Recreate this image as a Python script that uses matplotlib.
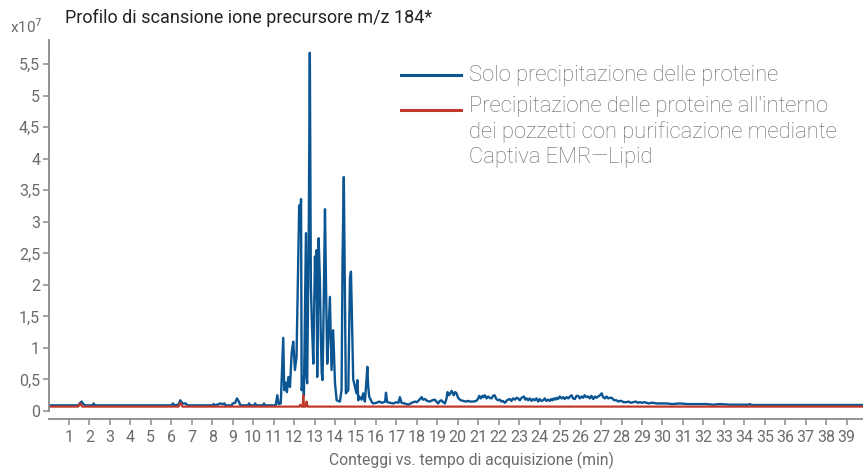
import matplotlib
matplotlib.use("Agg")
from matplotlib import pyplot as plt
from matplotlib.lines import Line2D

plt.rcParams['font.family'] = ['Roboto', 'DejaVu Sans']

# tempo (min) e conteggi (x10^7) - solo precipitazione delle proteine
t_blu = [0, 1.45, 1.55, 1.62, 1.7, 1.8, 2.15, 2.2, 2.27, 6.0, 6.08, 6.15, 6.35, 6.44, 6.55,
         6.7, 6.8, 8.0, 8.07, 8.15, 8.4, 8.5, 8.6, 8.65, 8.95, 9.0, 9.12, 9.21, 9.3, 9.38,
         9.75, 9.8, 9.85, 10.05, 10.1, 10.15, 10.48, 10.53, 10.58, 11.1, 11.18, 11.25,
         11.35, 11.47, 11.52, 11.6, 11.65, 11.72, 11.8, 11.88, 11.96, 12.04, 12.12, 12.2,
         12.25, 12.3, 12.34, 12.37, 12.42, 12.45, 12.48, 12.58, 12.61, 12.64, 12.72, 12.77,
         12.82, 12.86, 12.94, 13.02, 13.07, 13.1, 13.13, 13.2, 13.26, 13.3, 13.35, 13.39,
         13.45, 13.51, 13.56, 13.62, 13.67, 13.75, 13.83, 13.91, 13.96, 14.0, 14.08, 14.24,
         14.32, 14.37, 14.43, 14.48, 14.53, 14.65, 14.73, 14.78, 14.83, 14.89, 14.97, 15.05,
         15.09, 15.14, 15.18, 15.3, 15.38, 15.46, 15.54, 15.58, 15.62, 15.67, 15.8, 15.87,
         16.03, 16.15, 16.3, 16.45, 16.49, 16.55, 16.7, 16.85, 17.0, 17.1, 17.17, 17.25,
         17.4, 17.58, 17.75, 17.9, 18.0, 18.1, 18.23, 18.3, 18.4, 18.5, 18.64, 18.75,
         18.88, 18.95, 19.04, 19.12, 19.2, 19.28, 19.37, 19.45, 19.5, 19.58, 19.65, 19.7,
         19.8, 19.87, 19.94, 20.0, 20.07, 20.15, 20.27, 20.4, 20.5, 20.6, 20.75, 20.9,
         20.98, 21.05, 21.12, 21.2, 21.25, 21.32, 21.4, 21.48, 21.55, 21.65, 21.72, 21.8,
         21.88, 21.97, 22.05, 22.13, 22.2, 22.3, 22.38, 22.45, 22.54, 22.62, 22.7, 22.79,
         22.87, 22.95, 23.03, 23.12, 23.23, 23.3, 23.37, 23.44, 23.52, 23.6, 23.68, 23.76,
         23.84, 23.93, 24.0, 24.08, 24.17, 24.25, 24.33, 24.42, 24.5, 24.57, 24.63, 24.7,
         24.77, 24.83, 24.9, 24.98, 25.07, 25.15, 25.22, 25.32, 25.4, 25.48, 25.56, 25.63,
         25.72, 25.8, 25.88, 25.96, 26.05, 26.13, 26.2, 26.28, 26.37, 26.45, 26.53, 26.62,
         26.7, 26.78, 26.86, 26.95, 27.03, 27.1, 27.19, 27.27, 27.35, 27.43, 27.52, 27.6,
         27.68, 27.76, 27.84, 27.92, 28.0, 28.1, 28.24, 28.35, 28.45, 28.57, 28.7, 28.8,
         28.9, 29.0, 29.1, 29.22, 29.35, 29.45, 29.55, 29.7, 29.87, 30.0, 30.2, 30.5,
         30.85, 31.2, 31.5, 31.8, 32.15, 32.5, 32.8, 33.3, 34.2, 34.27, 34.35, 35.0, 39.8]
v_blu = [0.09, 0.09, 0.13, 0.15, 0.11, 0.09, 0.09, 0.12, 0.09, 0.09, 0.12, 0.09, 0.1, 0.17, 0.12,
         0.12, 0.09, 0.09, 0.11, 0.09, 0.12, 0.11, 0.12, 0.09, 0.09, 0.12, 0.13, 0.2, 0.15, 0.09,
         0.09, 0.12, 0.09, 0.09, 0.12, 0.09, 0.09, 0.12, 0.09, 0.09, 0.25, 0.11,
         0.12, 1.16, 0.33, 0.45, 0.3, 0.54, 0.38, 0.92, 1.1, 0.65, 0.86, 2.36,
         3.26, 3.0, 3.36, 0.33, 0.44, 0.54, 0.25, 2.82, 0.54, 0.44, 3.0, 5.68,
         2.0, 1.5, 0.75, 2.45, 1.8, 2.55, 0.54, 2.74, 2.1, 1.3, 0.6, 0.49,
         1.71, 3.2, 2.0, 0.75, 1.12, 1.81, 0.65, 1.28, 0.8, 0.44, 0.17, 0.15,
         0.33, 2.45, 3.71, 1.97, 0.28, 0.33, 2.1, 2.21, 1.45, 0.5, 0.39, 0.28,
         0.49, 0.17, 0.23, 0.18, 0.28, 0.15, 0.5, 0.7, 0.4, 0.23, 0.14, 0.12,
         0.13, 0.15, 0.13, 0.15, 0.29, 0.14, 0.13, 0.12, 0.14, 0.13, 0.22, 0.13,
         0.12, 0.1, 0.13, 0.15, 0.14, 0.17, 0.22, 0.18, 0.19, 0.16, 0.15, 0.17,
         0.18, 0.15, 0.12, 0.16, 0.17, 0.14, 0.12, 0.2, 0.3, 0.25, 0.29, 0.32,
         0.25, 0.3, 0.28, 0.22, 0.19, 0.17, 0.16, 0.15, 0.16, 0.15, 0.15, 0.16,
         0.19, 0.24, 0.2, 0.24, 0.22, 0.25, 0.2, 0.23, 0.21, 0.2, 0.24, 0.25,
         0.19, 0.17, 0.18, 0.15, 0.16, 0.13, 0.16, 0.18, 0.19, 0.16, 0.2, 0.18,
         0.21, 0.2, 0.17, 0.21, 0.23, 0.18, 0.2, 0.17, 0.2, 0.16, 0.19, 0.17,
         0.2, 0.15, 0.19, 0.16, 0.17, 0.2, 0.16, 0.18, 0.16, 0.19, 0.17, 0.2,
         0.18, 0.21, 0.19, 0.23, 0.2, 0.22, 0.19, 0.22, 0.2, 0.23, 0.25, 0.2,
         0.19, 0.24, 0.24, 0.2, 0.23, 0.21, 0.25, 0.22, 0.23, 0.2, 0.24, 0.19,
         0.23, 0.21, 0.23, 0.25, 0.28, 0.22, 0.2, 0.23, 0.2, 0.21, 0.21, 0.18,
         0.17, 0.17, 0.15, 0.16, 0.16, 0.14, 0.14, 0.15, 0.13, 0.14, 0.15, 0.13,
         0.14, 0.13, 0.14, 0.13, 0.12, 0.13, 0.13, 0.12, 0.12, 0.12, 0.12, 0.11,
         0.12, 0.11, 0.11, 0.11, 0.11, 0.1, 0.11, 0.1, 0.1, 0.11, 0.095, 0.095, 0.095]

# con purificazione Captiva EMR-Lipid
t_rosso = [0, 1.45, 1.55, 1.65, 6.35, 6.45, 6.55, 12.25, 12.3, 12.35, 12.42, 12.45, 12.48,
           12.56, 12.61, 12.66, 39.8]
v_rosso = [0.07, 0.07, 0.12, 0.07, 0.07, 0.13, 0.07, 0.07, 0.1, 0.07, 0.07, 0.25, 0.07,
           0.07, 0.15, 0.07, 0.07]

y_ticks = [0, 0.5, 1, 1.5, 2, 2.5, 3, 3.5, 4, 4.5, 5, 5.5]
y_labels = ['0', '0,5', '1', '1,5', '2', '2,5', '3', '3,5', '4', '4,5', '5', '5,5']
x_ticks = list(range(1, 40))

blu = '#0b5592'
rosso = '#c0392b'
grigio = '#8a8a8a'
testo = '#6b6b6b'

fig = plt.figure(figsize=(8.63, 4.70), dpi=100)
ax = fig.add_axes([0.0562, 0.1255, 0.9438, 0.789])

ax.plot(t_blu, v_blu, color=blu, lw=1.7)
ax.plot(t_rosso, v_rosso, color=rosso, lw=1.6)

ax.set_xlim(0, 39.8)
ax.set_ylim(0, 5.88)
ax.set_yticks(y_ticks)
ax.set_yticklabels(y_labels)
ax.set_xticks(x_ticks)
ax.set_xticklabels([str(x) for x in x_ticks])

for s in ['top', 'right']:
    ax.spines[s].set_visible(False)
for s in ['left', 'bottom']:
    ax.spines[s].set_color(grigio)
    ax.spines[s].set_linewidth(1.3)
ax.spines['bottom'].set_position(('outward', 5.8))

ax.tick_params(axis='both', colors=grigio, labelcolor=testo, labelsize=11.5, length=4, width=1.1)
ax.tick_params(axis='x', pad=4)
ax.tick_params(axis='y', pad=2)

ax.set_xlabel('Conteggi vs. tempo di acquisizione (min)', color=testo, fontsize=11.3, va='center')
ax.xaxis.set_label_coords((471 - 48.5) / 814.5, (411 - 460) / 371)

fig.text(65 / 863, 1 - 18 / 470, 'Profilo di scansione ione precursore m/z 184*',
         fontsize=13, color='#222222', va='center', ha='left')
fig.text(10 / 863, 1 - 27 / 470, r'x10$^{7}$', fontsize=11, color=testo, va='center', ha='left')

# legenda
fig.add_artist(Line2D([401 / 863, 461 / 863], [1 - 75 / 470, 1 - 75 / 470],
                      transform=fig.transFigure, color=blu, lw=2.2))
fig.add_artist(Line2D([401 / 863, 461 / 863], [1 - 110 / 470, 1 - 110 / 470],
                      transform=fig.transFigure, color=rosso, lw=2.2))
fig.text(469 / 863, 1 - 75 / 470, 'Solo precipitazione delle proteine',
         fontsize=15.8, color='#666666', fontweight='light', va='center', ha='left')
fig.text(469 / 863, 1 - 96 / 470,
         "Precipitazione delle proteine all'interno\ndei pozzetti con purificazione mediante\nCaptiva EMR\u2014Lipid",
         fontsize=15.8, color='#666666', fontweight='light', va='top', ha='left', linespacing=1.25)

fig.savefig('out.png', dpi=100)
